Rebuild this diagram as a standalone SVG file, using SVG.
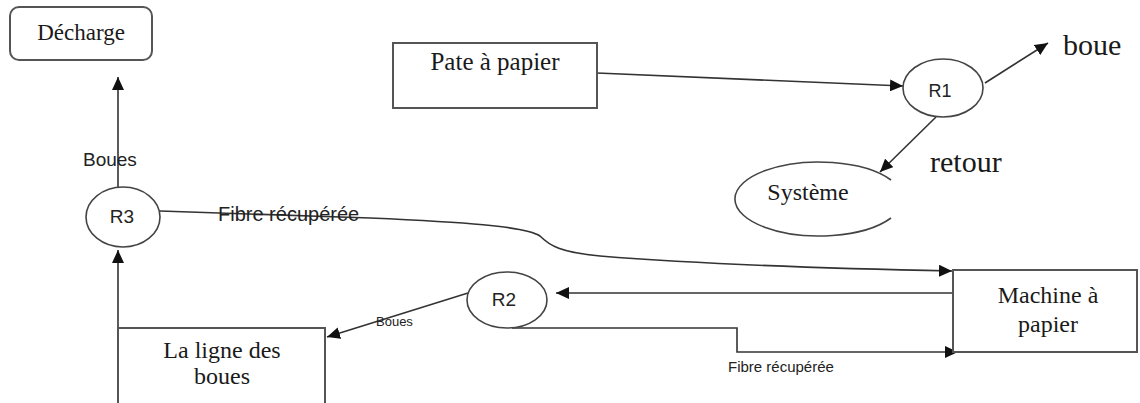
<svg xmlns="http://www.w3.org/2000/svg" width="1140" height="403" viewBox="0 0 1140 403">
<style>
.box{fill:#fff;stroke:#555;stroke-width:2}
.ell{fill:#fff;stroke:#444;stroke-width:1.6}
.ln{fill:none;stroke:#333;stroke-width:1.6}
.serif{font-family:"Liberation Serif","Times New Roman",serif;fill:#1a1a1a}
.sans{font-family:"Liberation Sans",Arial,sans-serif;fill:#222}
</style>
<defs>
<marker id="arr" markerUnits="userSpaceOnUse" markerWidth="14" markerHeight="12" refX="13" refY="6" orient="auto">
<path d="M0,0 L13,6 L0,12 z" fill="#111"/>
</marker>
</defs>
<rect width="1140" height="403" fill="#fff"/>
<g id="connectors">
<line class="ln" x1="118" y1="187" x2="118" y2="77" marker-end="url(#arr)"/>
<line class="ln" x1="118" y1="403" x2="118" y2="250" marker-end="url(#arr)"/>
<path class="ln" d="M160,211 L370,218 C460,222 525,226 540,236 C550,246 560,252 600,256 C700,264 850,269 952,271" marker-end="url(#arr)"/>
<line class="ln" x1="953" y1="293" x2="556" y2="293" marker-end="url(#arr)"/>
<polyline class="ln" points="512,328 737,328 737,352 958,352" marker-end="url(#arr)"/>
<line class="ln" x1="468" y1="293" x2="327" y2="337" marker-end="url(#arr)"/>
<line class="ln" x1="597" y1="73" x2="903" y2="86" marker-end="url(#arr)"/>
<line class="ln" x1="985" y1="83" x2="1048" y2="43" marker-end="url(#arr)"/>
<line class="ln" x1="936" y1="117" x2="880" y2="172" marker-end="url(#arr)"/>
<text class="sans" x="83" y="166" font-size="19">Boues</text>
<text class="sans" x="218" y="221" font-size="20">Fibre récupérée</text>
<text class="sans" x="376" y="326" font-size="13">Boues</text>
<text class="sans" x="728" y="372" font-size="15">Fibre récupérée</text>
<text class="serif" x="1063" y="55" font-size="30">boue</text>
<text class="serif" x="930" y="172" font-size="30">retour</text>
</g>
<g id="decharge">
<rect class="box" x="10" y="7" width="142" height="53" rx="9"/>
<text class="serif" x="81" y="40" font-size="23" text-anchor="middle">Décharge</text>
</g>
<g id="pate">
<rect class="box" x="393" y="43" width="204" height="65"/>
<text class="serif" x="495" y="70" font-size="25" text-anchor="middle">Pate à papier</text>
</g>
<g id="r1">
<ellipse class="ell" cx="943" cy="88" rx="40" ry="29"/>
<text class="sans" x="940" y="97" font-size="18" text-anchor="middle">R1</text>
</g>
<g id="systeme">
<path class="ell" d="M891,180 A84,37 0 1 0 891,218"/>
<text class="serif" x="808" y="200" font-size="24" text-anchor="middle">Système</text>
</g>
<g id="r3">
<ellipse class="ell" cx="123" cy="217" rx="37" ry="30"/>
<text class="sans" x="122" y="223" font-size="19" text-anchor="middle">R3</text>
</g>
<g id="r2">
<ellipse class="ell" cx="507" cy="300" rx="40" ry="28"/>
<text class="sans" x="504" y="306" font-size="19" text-anchor="middle">R2</text>
</g>
<g id="machine">
<rect class="box" x="953" y="270" width="184" height="82"/>
<text class="serif" x="1048" y="303" font-size="24" text-anchor="middle">Machine à</text>
<text class="serif" x="1048" y="332" font-size="24" text-anchor="middle">papier</text>
</g>
<g id="ligne">
<rect class="box" x="118" y="328" width="207" height="90"/>
<text class="serif" x="222" y="358" font-size="24" text-anchor="middle">La ligne des</text>
<text class="serif" x="222" y="384" font-size="24" text-anchor="middle">boues</text>
</g>
</svg>
